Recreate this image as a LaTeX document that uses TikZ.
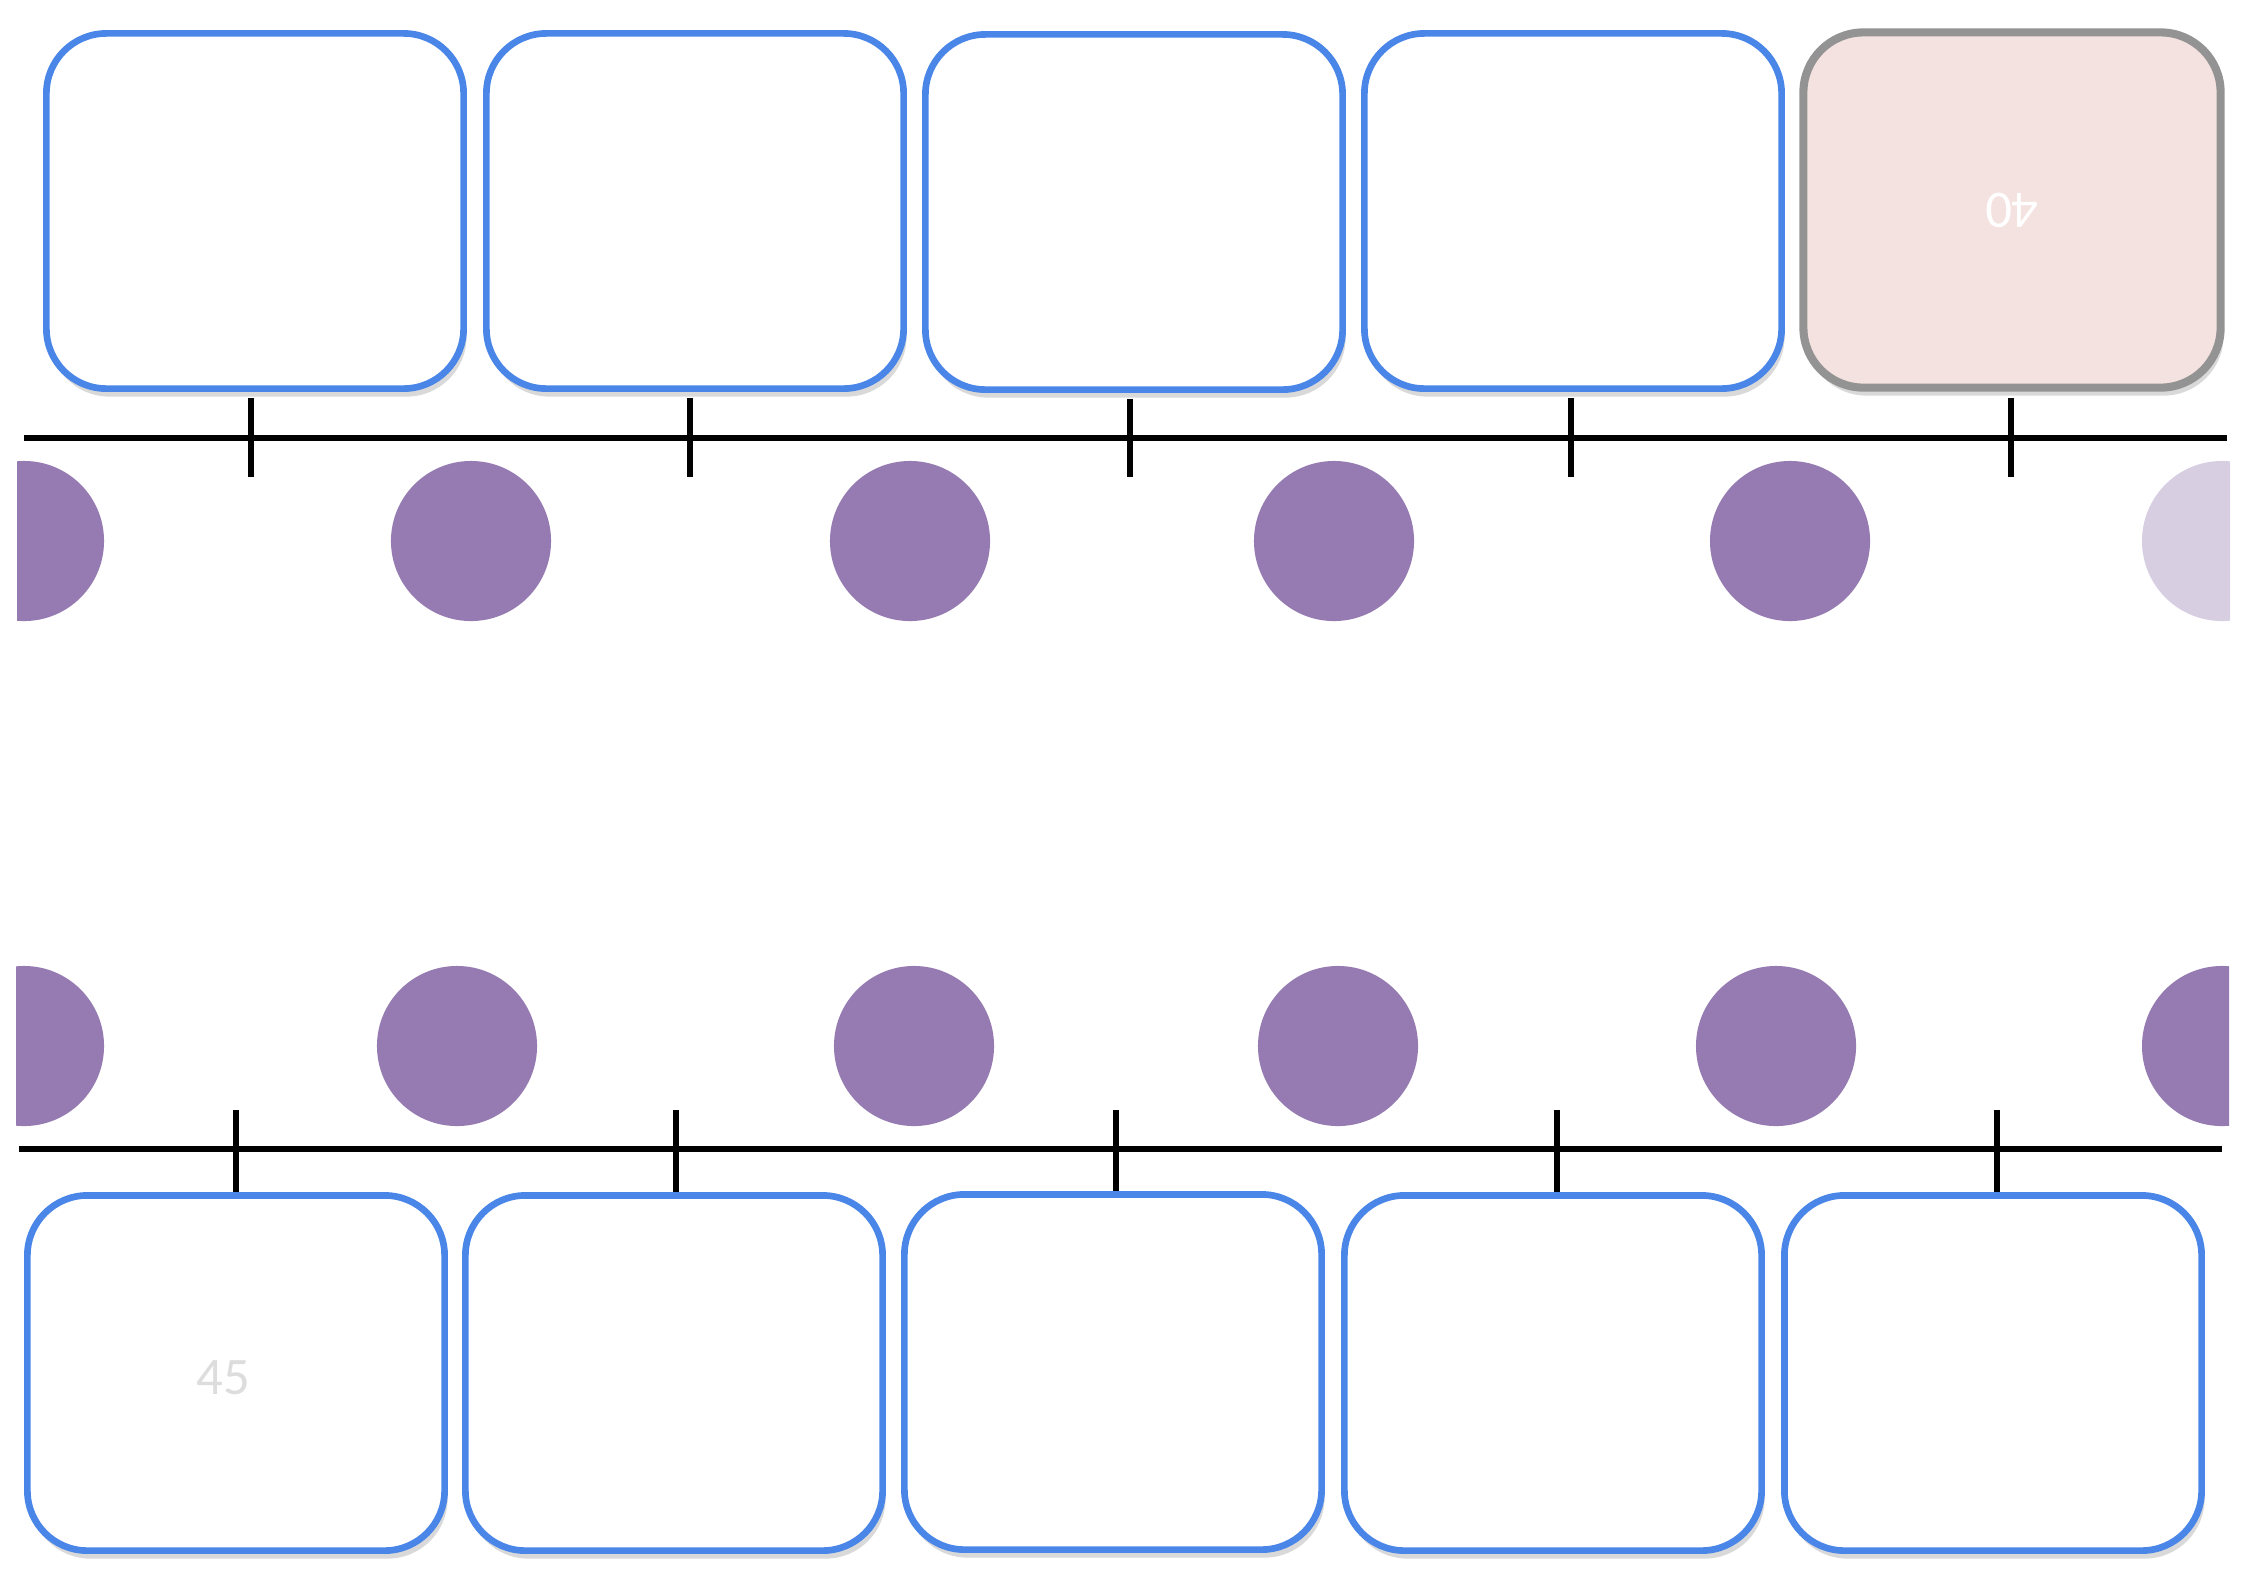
\documentclass[tikz,border=0pt]{standalone}
\usepackage{fontspec}
\setmainfont{Carlito}
\usetikzlibrary{shadows}
\definecolor{cardblue}{HTML}{4A86E8}
\definecolor{cardgray}{HTML}{939393}
\definecolor{cardpink}{HTML}{F4E2E0}
\definecolor{dotpurple}{HTML}{957BB1}
\definecolor{dotpale}{HTML}{D7CEE2}
\definecolor{faintgray}{HTML}{DDDDDD}

\begin{document}
\begin{tikzpicture}[x=0.01cm, y=-0.01cm,
  card/.style={draw=cardblue, line width=1.9pt, fill=white, rounded corners=0.6cm,
    minimum width=4.17cm, minimum height=3.55cm, font=\fontsize{15}{17}\selectfont,
    drop shadow={opacity=0.3, shadow xshift=0.3mm, shadow yshift=-0.8mm}},
  graycard/.style={card, draw=cardgray, fill=cardpink, line width=2.3pt},
  dot/.style={circle, fill=dotpurple, minimum size=1.6cm, inner sep=0pt},
  rule/.style={line width=1.6pt, black},
]
  \useasboundingbox (0,0) rectangle (2246,1587);

  % top row of cards
  \node[card] (top1) at (255,211) {};
  \node[card] (top2) at (695,211) {};
  \node[card] (top3) at (1134,212) {};
  \node[card] (top4) at (1573,211) {};
  \node[graycard, text=white] (top5) at (2012,210) {\rotatebox{180}{40}};

  % top time line
  \coordinate (topL) at (24,438);
  \coordinate (topR) at (2227,438);
  \coordinate (tickA1) at (251,477);
  \coordinate (tickA2) at (690,477);
  \coordinate (tickA3) at (1130,477);
  \coordinate (tickA4) at (1571,477);
  \coordinate (tickA5) at (2011,477);
  \draw[rule] (topL) -- (topR);
  \draw[rule] ([yshift=-0.06cm]top1.south -| tickA1) -- (tickA1);
  \draw[rule] ([yshift=-0.06cm]top2.south -| tickA2) -- (tickA2);
  \draw[rule] ([yshift=-0.06cm]top3.south -| tickA3) -- (tickA3);
  \draw[rule] ([yshift=-0.06cm]top4.south -| tickA4) -- (tickA4);
  \draw[rule] ([yshift=-0.06cm]top5.south -| tickA5) -- (tickA5);

  % top dots
  \node[dot] (dotA2) at (471,541) {};
  \node[dot] (dotA3) at (910,541) {};
  \node[dot] (dotA4) at (1334,541) {};
  \node[dot] (dotA5) at (1790,541) {};
  \begin{scope}
    \clip (17,400) rectangle (2230,700);
    \node[dot] (dotA1) at (24,541) {};
    \node[dot, fill=dotpale] (dotA6) at (2222,541) {};
  \end{scope}

  % bottom dots
  \node[dot] (dotB2) at (457,1046) {};
  \node[dot] (dotB3) at (914,1046) {};
  \node[dot] (dotB4) at (1338,1046) {};
  \node[dot] (dotB5) at (1776,1046) {};
  \begin{scope}
    \clip (16,900) rectangle (2229,1200);
    \node[dot] (dotB1) at (24,1046) {};
    \node[dot] (dotB6) at (2222,1046) {};
  \end{scope}

  % bottom row of cards
  \node[card, text=faintgray] (bot1) at (236,1373) {\hspace*{-0.25cm}\raisebox{-0.21cm}[0pt][0pt]{45}};
  \node[card] (bot2) at (674,1373) {};
  \node[card] (bot3) at (1113,1372) {};
  \node[card] (bot4) at (1553,1373) {};
  \node[card] (bot5) at (1993,1373) {};

  % bottom time line
  \coordinate (botL) at (19,1149);
  \coordinate (botR) at (2222,1149);
  \coordinate (tickB1) at (236,1110);
  \coordinate (tickB2) at (676,1110);
  \coordinate (tickB3) at (1116,1110);
  \coordinate (tickB4) at (1557,1110);
  \coordinate (tickB5) at (1997,1110);
  \draw[rule] (botL) -- (botR);
  \draw[rule] (tickB1) -- (bot1.north -| tickB1);
  \draw[rule] (tickB2) -- (bot2.north -| tickB2);
  \draw[rule] (tickB3) -- (bot3.north -| tickB3);
  \draw[rule] (tickB4) -- (bot4.north -| tickB4);
  \draw[rule] (tickB5) -- (bot5.north -| tickB5);
\end{tikzpicture}
\end{document}
